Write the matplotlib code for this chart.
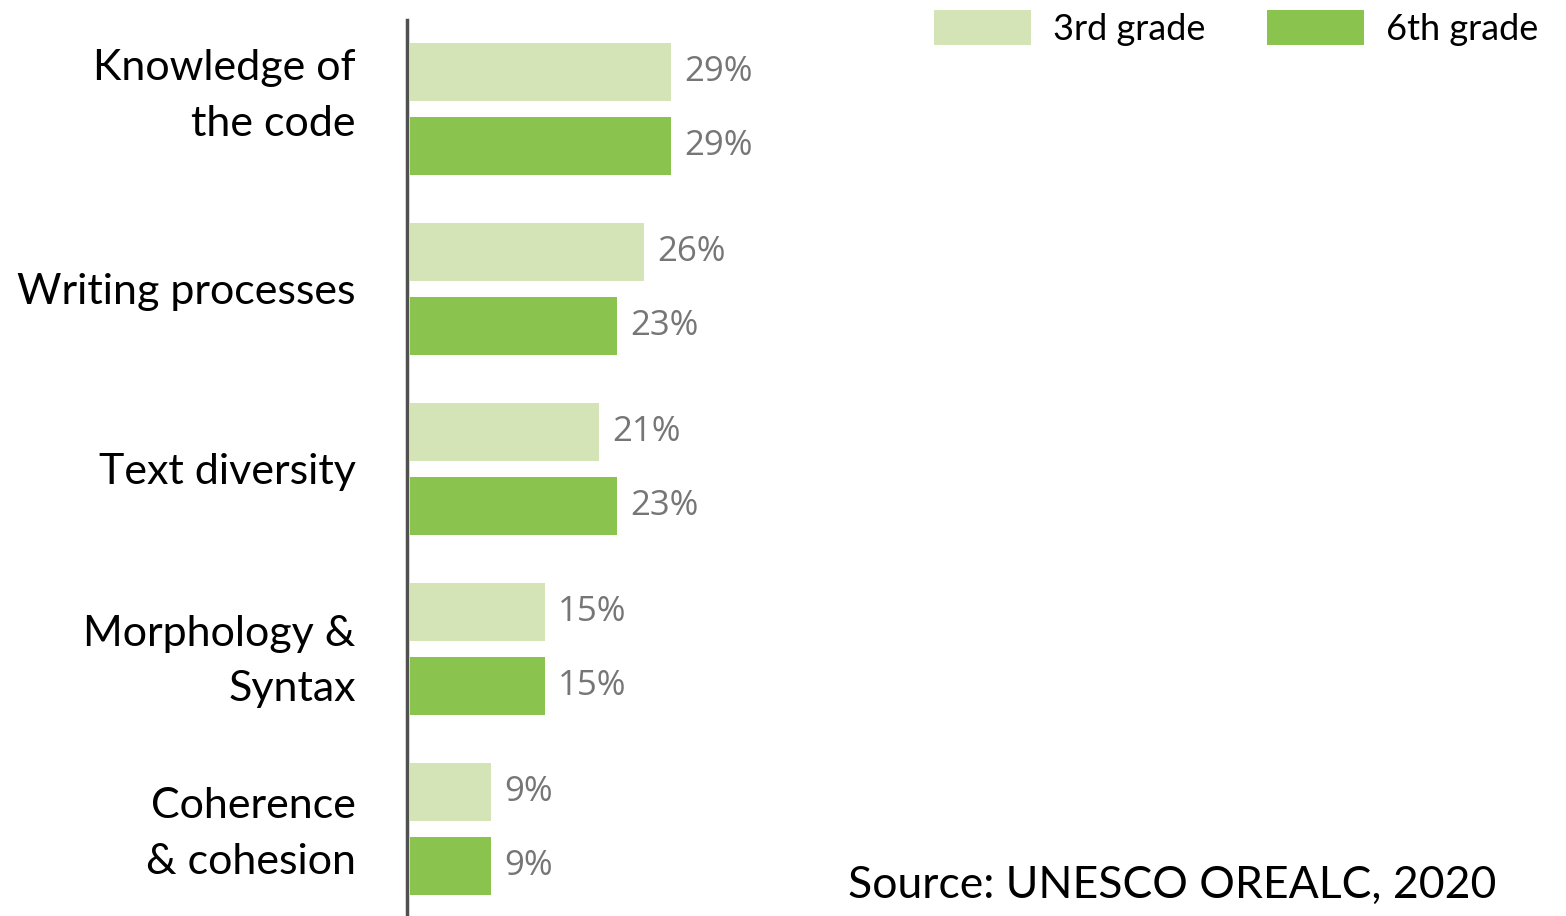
import matplotlib.pyplot as plt
import matplotlib.transforms as mtransforms
import numpy as np

categories = ["Knowledge of\nthe code", "Writing processes", "Text diversity",
              "Morphology &\nSyntax", "Coherence\n& cohesion"]
grade3 = [29, 26, 21, 15, 9]
grade6 = [29, 23, 23, 15, 9]
series_names = ["3rd grade", "6th grade"]

light = "#d4e4b6"
dark = "#8bc34f"

plt.rcParams["font.family"] = ["Lato", "DejaVu Sans"]

W, H = 1566, 916
fig = plt.figure(figsize=(W / 100, H / 100), dpi=100)
# axes: left spine at x=407px, spans from y=20px to bottom
ax = fig.add_axes([407 / W, 0, 450 / W, (H - 20) / H])

y = np.arange(len(categories))
off = 0.206
h = 0.322
b3 = ax.barh(y - off, grade3, height=h, color=light, left=0.3, label=series_names[0])
b6 = ax.barh(y + off, grade6, height=h, color=dark, left=0.3, label=series_names[1])

for bars, vals in ((b3, grade3), (b6, grade6)):
    for bar, v in zip(bars, vals):
        ax.text(bar.get_x() + bar.get_width() + 1.5, bar.get_y() + bar.get_height() / 2,
                f"{v}%", va="center", ha="left", fontsize=25, color="#767676",
                family=["Open Sans", "DejaVu Sans"])

ax.set_xlim(0, 50)
ax.set_ylim(4.483, -0.494)
ax.set_yticks(y)
ax.set_yticklabels(categories, fontsize=31, linespacing=1.58)
ax.tick_params(axis="y", length=0, pad=37)
ax.set_xticks([])
for s in ("top", "right", "bottom"):
    ax.spines[s].set_visible(False)
ax.spines["left"].set_color("#505050")
ax.spines["left"].set_linewidth(2.5)

# some labels sit a bit higher than their group in the original
fig.canvas.draw()
labels = ax.get_yticklabels()
for i, shift in ((0, 25), (4, 8)):
    lab = labels[i]
    lab.set_transform(lab.get_transform() + mtransforms.ScaledTranslation(0, shift / 100, fig.dpi_scale_trans))

fig.legend(handles=[b3, b6], labels=series_names, loc="upper right",
           bbox_to_anchor=(1.003, 1.025), ncol=2, frameon=False, fontsize=26,
           handlelength=2.7, handleheight=1.15, columnspacing=1.7, handletextpad=0.6)

fig.text(848 / W, 1 - 885 / H, "Source: UNESCO OREALC, 2020", fontsize=32,
         va="center", ha="left")

fig.savefig("out.png", dpi=100)
